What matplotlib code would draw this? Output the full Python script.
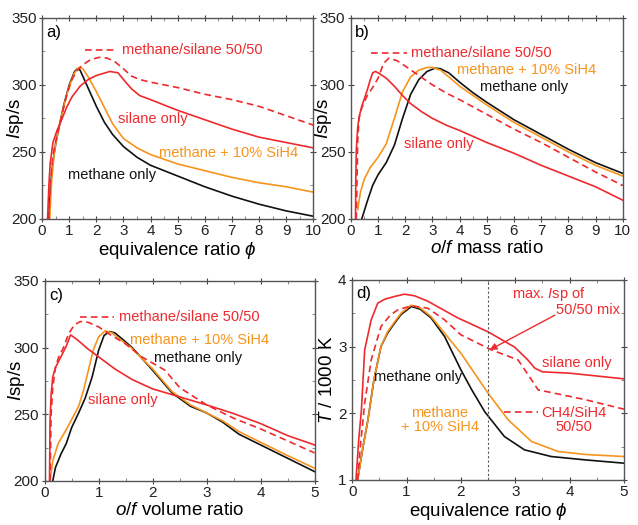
import matplotlib
matplotlib.use("Agg")
import matplotlib.pyplot as plt
from matplotlib.ticker import MultipleLocator

plt.rcParams['font.family'] = ['Liberation Sans', 'DejaVu Sans']
plt.rcParams['mathtext.fontset'] = 'custom'
plt.rcParams['mathtext.rm'] = 'Liberation Sans'
plt.rcParams['mathtext.it'] = 'Liberation Sans:italic'

RED = '#ee2a2e'
ORANGE = '#f7941d'
BLACK = '#111111'

# ---- panel a: Isp vs equivalence ratio
a_meth_x = [0.25, 0.3, 0.4, 0.5, 0.6, 0.8, 1.0, 1.2, 1.3, 1.4, 1.6, 1.8, 2.0, 2.3, 2.6, 3.0, 3.5, 4.0, 5.0, 6.0, 7.0, 8.0, 9.0, 10.0]
a_meth_y = [200, 222, 243, 256, 266, 285, 300, 310, 312, 311, 302, 293, 284, 272, 263, 254, 246, 240, 232, 224, 217, 211, 206, 202]
a_mix10_x = [0.28, 0.35, 0.45, 0.6, 0.8, 1.0, 1.2, 1.35, 1.5, 1.7, 2.0, 2.3, 2.6, 3.0, 3.5, 4.0, 5.0, 6.0, 7.0, 8.0, 9.0, 10.0]
a_mix10_y = [200, 228, 250, 266, 284, 299, 309, 313, 312, 306, 295, 283, 271, 260, 253, 248, 241, 236, 231, 227, 224, 220]
a_sil_x = [0.2, 0.25, 0.3, 0.4, 0.55, 0.7, 0.9, 1.1, 1.4, 1.7, 2.0, 2.5, 2.8, 3.0, 3.3, 3.6, 4.0, 5.0, 6.0, 7.0, 8.0, 9.0, 10.0]
a_sil_y = [200, 225, 242, 257, 266, 273, 283, 291, 299, 304, 307, 310, 309, 304, 297, 292, 289, 281, 274, 267, 261, 257, 253]
a_5050_x = [0.25, 0.3, 0.4, 0.55, 0.7, 0.9, 1.1, 1.3, 1.5, 1.8, 2.1, 2.4, 2.7, 3.0, 3.3, 3.6, 4.0, 5.0, 6.0, 7.0, 8.0, 9.0, 10.0]
a_5050_y = [200, 225, 248, 262, 275, 292, 304, 311, 315, 319, 320.5, 320, 317, 312, 306.5, 304, 302, 298, 293, 289, 284, 277, 270]

# ---- panel b: Isp vs o/f mass ratio
b_meth_x = [0.4, 0.6, 0.8, 1.0, 1.3, 1.6, 1.9, 2.2, 2.5, 2.8, 3.1, 3.3, 3.6, 4.0, 4.5, 5.0, 6.0, 7.0, 8.0, 9.0, 10.0]
b_meth_y = [200, 213, 225, 233, 242, 255, 275, 293, 304, 310, 312.5, 312, 309, 302, 294, 287, 274, 263, 252, 242, 234]
b_mix10_x = [0.25, 0.35, 0.5, 0.7, 1.0, 1.3, 1.6, 1.9, 2.2, 2.5, 2.8, 3.0, 3.3, 3.6, 4.0, 4.5, 5.0, 6.0, 7.0, 8.0, 9.0, 10.0]
b_mix10_y = [207, 220, 230, 238, 246, 256, 275, 295, 306, 311, 313, 313, 311, 306, 299, 292, 285, 272, 261, 250, 240, 232]
b_sil_x = [0.17, 0.18, 0.2, 0.25, 0.3, 0.4, 0.5, 0.6, 0.7, 0.8, 0.9, 1.0, 1.3, 1.6, 1.9, 2.2, 2.6, 3.0, 3.5, 4.0, 5.0, 6.0, 7.0, 8.0, 9.0, 10.0]
b_sil_y = [200, 230, 252, 268, 276, 284, 290, 296, 303, 309, 310, 309, 305, 299, 292, 286, 280, 275, 270, 266, 257, 249, 240, 232, 224, 214]
b_5050_x = [0.2, 0.25, 0.3, 0.4, 0.6, 0.8, 1.0, 1.2, 1.4, 1.7, 2.0, 2.5, 3.0, 3.5, 4.0, 5.0, 6.0, 7.0, 8.0, 9.0, 10.0]
b_5050_y = [200, 258, 275, 283, 292, 298, 305, 316, 320, 318, 314, 307, 300, 294, 289, 278, 267, 257, 246, 235, 225]

# ---- panel c: Isp vs o/f volume ratio
c_meth_x = [0.15, 0.2, 0.3, 0.4, 0.5, 0.63, 0.75, 0.88, 1.0, 1.1, 1.2, 1.3, 1.45, 1.62, 1.8, 2.0, 2.36, 2.7, 3.0, 3.3, 3.6, 4.0, 4.5, 5.0]
c_meth_y = [200, 210, 220, 228, 240, 251, 262, 278, 298, 309, 312, 311, 306, 300, 292, 283, 266, 256, 251, 244, 235, 227, 217, 207]
c_mix10_x = [0.1, 0.15, 0.25, 0.38, 0.5, 0.63, 0.72, 0.81, 0.9, 1.0, 1.12, 1.25, 1.4, 1.6, 1.8, 2.0, 2.36, 2.7, 3.0, 3.3, 3.6, 4.0, 4.5, 5.0]
c_mix10_y = [200, 215, 228, 237, 246, 256, 268, 283, 298, 308, 312.5, 311, 306, 300, 292, 284, 267, 257, 251, 245, 237, 229, 219, 209.5]
c_sil_x = [0.09, 0.1, 0.12, 0.15, 0.2, 0.3, 0.4, 0.48, 0.6, 0.8, 1.0, 1.3, 1.62, 2.0, 2.5, 3.0, 3.5, 4.0, 4.5, 5.0]
c_sil_y = [200, 245, 265, 278, 285, 293, 301, 309.5, 306, 299, 293, 284, 276, 269, 263, 257, 250.5, 243, 234, 227]
c_5050_x = [0.1, 0.12, 0.15, 0.2, 0.26, 0.35, 0.44, 0.55, 0.66, 0.8, 1.0, 1.2, 1.49, 1.8, 2.23, 2.5, 3.0, 3.5, 4.0, 4.5, 5.0]
c_5050_y = [200, 250, 270, 285, 293, 300, 310, 317, 319.5, 319, 315.5, 310, 303, 293, 283, 270, 257, 247, 239, 230, 221]

# ---- panel d: temperature vs equivalence ratio (T / 1000 K)
d_meth_x = [0.1, 0.2, 0.29, 0.4, 0.53, 0.65, 0.78, 0.9, 1.09, 1.25, 1.45, 1.7, 2.0, 2.2, 2.44, 2.8, 3.17, 3.66, 4.28, 5.0]
d_meth_y = [1.0, 1.5, 1.9, 2.5, 3.0, 3.2, 3.35, 3.48, 3.6, 3.56, 3.43, 3.15, 2.65, 2.35, 2.02, 1.65, 1.45, 1.35, 1.3, 1.25]
d_mix10_x = [0.1, 0.2, 0.29, 0.4, 0.53, 0.65, 0.78, 0.9, 1.08, 1.25, 1.45, 1.7, 2.0, 2.25, 2.5, 2.87, 3.3, 3.79, 4.3, 5.0]
d_mix10_y = [1.0, 1.5, 1.9, 2.5, 3.0, 3.22, 3.37, 3.5, 3.62, 3.58, 3.45, 3.2, 2.9, 2.6, 2.3, 1.9, 1.575, 1.425, 1.38, 1.35]
d_sil_x = [0.07, 0.12, 0.17, 0.23, 0.35, 0.47, 0.6, 0.78, 0.96, 1.15, 1.39, 1.94, 2.5, 2.99, 3.23, 3.36, 3.5, 4.0, 5.0]
d_sil_y = [1.0, 1.6, 2.05, 2.95, 3.4, 3.65, 3.71, 3.75, 3.785, 3.76, 3.68, 3.43, 3.22, 2.99, 2.8, 2.675, 2.62, 2.6, 2.515]
d_5050_x = [0.1, 0.15, 0.23, 0.35, 0.53, 0.7, 0.84, 1.09, 1.39, 1.7, 2.0, 2.56, 3.05, 3.3, 3.42, 3.66, 4.3, 5.0]
d_5050_y = [1.0, 1.5, 2.15, 2.8, 3.3, 3.47, 3.55, 3.61, 3.575, 3.4, 3.175, 2.95, 2.8, 2.5, 2.35, 2.31, 2.2, 2.06]
d_ref_phi = 2.5

fig = plt.figure(figsize=(6.38, 5.25), dpi=100)
ax_a = fig.add_axes([0.066, 0.583, 0.425, 0.383])
ax_b = fig.add_axes([0.550, 0.583, 0.426, 0.383])
ax_c = fig.add_axes([0.070, 0.084, 0.423, 0.381])
ax_d = fig.add_axes([0.552, 0.086, 0.426, 0.381])

lw = 1.2
TS = 10.5
LS = 13.5


def style(ax, xmax, xmaj, ymin, ymax, ymaj):
    ax.set_xlim(0, xmax)
    ax.set_ylim(ymin, ymax)
    ax.xaxis.set_major_locator(MultipleLocator(xmaj))
    ax.xaxis.set_minor_locator(MultipleLocator(xmaj / 2))
    ax.yaxis.set_major_locator(MultipleLocator(ymaj))
    ax.yaxis.set_minor_locator(MultipleLocator(ymaj / 2))
    ax.tick_params(which='major', direction='inout', length=5, width=0.8,
                   top=True, right=True, labelsize=11, colors='#444444',
                   labelcolor='#222222', pad=1.5)
    ax.tick_params(which='minor', direction='in', length=2.5, width=0.7,
                   top=True, right=True, colors='#888888')
    for s in ax.spines.values():
        s.set_color('#555555')
        s.set_linewidth(1.0)


def four(ax, mx, my, ox, oy, sx, sy, dx, dy):
    ax.plot(mx, my, color=BLACK, lw=lw)
    ax.plot(ox, oy, color=ORANGE, lw=lw)
    ax.plot(sx, sy, color=RED, lw=lw)
    ax.plot(dx, dy, color=RED, lw=lw, ls=(0, (4, 2.5)))


# a)
four(ax_a, a_meth_x, a_meth_y, a_mix10_x, a_mix10_y, a_sil_x, a_sil_y, a_5050_x, a_5050_y)
style(ax_a, 10, 1, 200, 350, 50)
ax_a.set_xlabel(r'equivalence ratio $\phi$', fontsize=LS, labelpad=1)
ax_a.set_ylabel(r'$I$sp/s', fontsize=LS)
ax_a.yaxis.set_label_coords(-0.059, 0.5)
ax_a.text(0.15, 339, 'a)', fontsize=12, va='center')
ax_a.plot([1.6, 2.75], [326, 326], color=RED, lw=lw, ls=(0, (4, 2.5)))
ax_a.text(2.95, 326, 'methane/silane 50/50', color=RED, fontsize=TS, va='center')
ax_a.text(2.8, 274.5, 'silane only', color=RED, fontsize=TS, va='center')
ax_a.text(4.3, 249, 'methane + 10% SiH4', color=ORANGE, fontsize=TS, va='center')
ax_a.text(0.95, 233, 'methane only', color=BLACK, fontsize=TS, va='center')

# b)
four(ax_b, b_meth_x, b_meth_y, b_mix10_x, b_mix10_y, b_sil_x, b_sil_y, b_5050_x, b_5050_y)
style(ax_b, 10, 1, 200, 350, 50)
ax_b.set_xlabel(r'$o/f$ mass ratio', fontsize=LS, labelpad=1)
ax_b.set_ylabel(r'$I$sp/s', fontsize=LS)
ax_b.yaxis.set_label_coords(-0.062, 0.5)
ax_b.text(0.15, 339, 'b)', fontsize=12, va='center')
ax_b.plot([0.74, 2.05], [324, 324], color=RED, lw=lw, ls=(0, (4, 2.5)))
ax_b.text(2.2, 324, 'methane/silane 50/50', color=RED, fontsize=TS, va='center')
ax_b.text(3.9, 311, 'methane + 10% SiH4', color=ORANGE, fontsize=TS, va='center')
ax_b.text(4.75, 298.5, 'methane only', color=BLACK, fontsize=TS, va='center')
ax_b.text(1.95, 256, 'silane only', color=RED, fontsize=TS, va='center')

# c)
four(ax_c, c_meth_x, c_meth_y, c_mix10_x, c_mix10_y, c_sil_x, c_sil_y, c_5050_x, c_5050_y)
style(ax_c, 5, 1, 200, 350, 50)
ax_c.set_xlabel(r'$o/f$ volume ratio', fontsize=LS, labelpad=1)
ax_c.set_ylabel(r'$I$sp/s', fontsize=LS)
ax_c.yaxis.set_label_coords(-0.066, 0.5)
ax_c.text(0.08, 339, 'c)', fontsize=12, va='center')
ax_c.plot([0.66, 1.28], [323, 323], color=RED, lw=lw, ls=(0, (4, 2.5)))
ax_c.text(1.37, 323, 'methane/silane 50/50', color=RED, fontsize=TS, va='center')
ax_c.text(1.59, 306, 'methane + 10% SiH4', color=ORANGE, fontsize=TS, va='center')
ax_c.text(2.02, 292, 'methane only', color=BLACK, fontsize=TS, va='center')
ax_c.text(0.81, 260.7, 'silane only', color=RED, fontsize=TS, va='center')

# d)
four(ax_d, d_meth_x, d_meth_y, d_mix10_x, d_mix10_y, d_sil_x, d_sil_y, d_5050_x, d_5050_y)
style(ax_d, 5, 1, 1, 4, 1)
ax_d.axvline(d_ref_phi, color='#555555', lw=0.8, ls=(0, (2, 2)))
ax_d.set_xlabel(r'equivalence ratio $\phi$', fontsize=LS, labelpad=1)
ax_d.set_ylabel(r'$T$ / 1000 K', fontsize=LS)
ax_d.yaxis.set_label_coords(-0.058, 0.5)
ax_d.text(0.08, 3.8, 'd)', fontsize=12, va='center')
ax_d.text(2.94, 3.78, r'max. $I$sp of', color=RED, fontsize=TS, va='center')
ax_d.text(3.75, 3.54, '50/50 mix', color=RED, fontsize=TS, va='center')
ax_d.annotate('', xy=(2.53, 2.95), xytext=(3.73, 3.47),
              arrowprops=dict(arrowstyle='-|>', color=RED, lw=1.0,
                              mutation_scale=10, shrinkA=0, shrinkB=0))
ax_d.text(3.5, 2.76, 'silane only', color=RED, fontsize=TS, va='center')
ax_d.text(0.4, 2.54, 'methane only', color=BLACK, fontsize=TS, va='center')
ax_d.text(1.61, 1.9, 'methane\n+ 10% SiH4', color=ORANGE, fontsize=TS,
          ha='center', va='center', linespacing=1.0)
ax_d.plot([2.8, 3.42], [2.02, 2.02], color=RED, lw=lw, ls=(0, (4, 2.5)))
ax_d.text(4.07, 1.9, 'CH4/SiH4\n50/50', color=RED, fontsize=TS,
          ha='center', va='center', linespacing=1.0)

fig.savefig('out.png', dpi=100)
